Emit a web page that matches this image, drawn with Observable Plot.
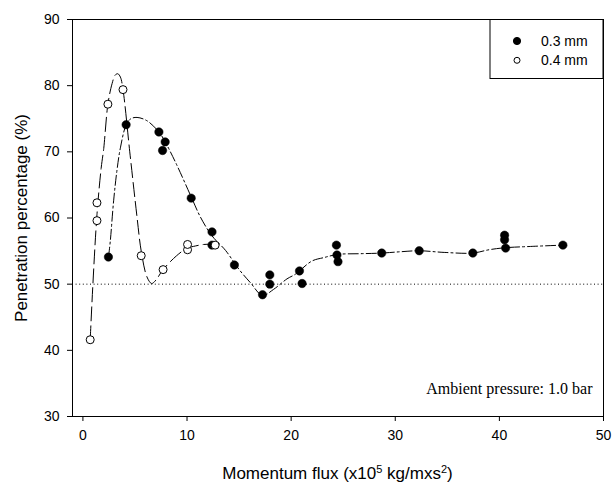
<!DOCTYPE html>
<html>
<head>
<meta charset="utf-8">
<script src="https://cdn.jsdelivr.net/npm/d3@7"></script>
<script src="https://cdn.jsdelivr.net/npm/@observablehq/plot@0.6"></script>
<style>
  html, body { margin: 0; padding: 0; background: white; }
</style>
</head>
<body>
<div id="chart"></div>
<script>
// ---- data ----
const series = ["0.3 mm", "0.4 mm"];

// 0.3 mm measured points (filled circles)
const flux03 = [2.45, 4.15, 7.3, 7.65, 7.9, 10.4, 12.4, 12.4, 14.55, 17.25, 17.95, 17.95, 20.8, 21.05, 24.35, 24.4, 24.5, 28.7, 32.3, 37.45, 40.5, 40.5, 40.6, 46.1];
const pen03  = [54.1, 74.1, 73.0, 70.2, 71.5, 63.0, 57.9, 55.9, 52.9, 48.4, 51.4, 50.0, 52.0, 50.1, 55.9, 54.4, 53.4, 54.7, 55.05, 54.7, 57.4, 56.7, 55.45, 55.9];

// 0.4 mm measured points (open circles)
const flux04 = [0.7, 1.35, 1.35, 2.4, 3.85, 5.6, 7.7, 10.05, 10.05, 12.7];
const pen04  = [41.6, 59.6, 62.3, 77.2, 79.4, 54.3, 52.2, 55.2, 56.0, 55.9];

// fitted trend curves
const fitFlux03 = [2.46, 2.63, 2.95, 3.27, 3.6, 4.16, 4.6, 5.2, 6.15, 7.3, 7.9, 8.9, 10.4, 11.3, 12.4, 13.7, 14.96, 16.1, 17.25, 18.3, 19.6, 20.4, 22.0, 23.1, 24.5, 26.5, 28.7, 30.5, 32.3, 34.7, 37.45, 39.0, 40.5, 43.0, 46.1];
const fitPen03  = [54.1, 56.5, 62.6, 67.2, 70.6, 74.1, 75.0, 75.2, 74.7, 73.0, 71.5, 68.4, 63.2, 60.1, 57.3, 55.1, 52.3, 50.2, 48.3, 49.2, 50.8, 51.5, 53.5, 54.0, 54.5, 54.6, 54.7, 54.9, 55.05, 54.8, 54.7, 55.2, 55.5, 55.7, 55.9];

const fitFlux04 = [0.7, 0.96, 1.35, 1.75, 2.0, 2.4, 2.8, 3.1, 3.35, 3.6, 3.85, 4.5, 5.2, 5.6, 6.15, 6.6, 7.0, 7.7, 9.0, 10.05, 10.6, 11.6, 13.0];
const fitPen04  = [41.6, 50.0, 60.5, 67.5, 70.5, 77.2, 80.3, 81.6, 81.8, 81.3, 79.4, 70.0, 60.1, 55.0, 51.1, 50.1, 50.6, 52.2, 54.3, 55.5, 55.7, 56.0, 56.0];

const referenceLevel = [50];
const xTicks = [0, 10, 20, 30, 40, 50];
const yTicks = [30, 40, 50, 60, 70, 80, 90];
const yLabel = "Penetration percentage (%)";
const note = "Ambient pressure: 1.0 bar";

// ---- tables built from the arrays ----
const pts03 = flux03.map((f, i) => ({flux: f, pen: pen03[i]}));
const pts04 = flux04.map((f, i) => ({flux: f, pen: pen04[i]}));
const fit03 = fitFlux03.map((f, i) => ({flux: f, pen: fitPen03[i]}));
const fit04 = fitFlux04.map((f, i) => ({flux: f, pen: fitPen04[i]}));

const sans = "'Liberation Sans', Arial, sans-serif";
const serif = "'Liberation Serif', 'Times New Roman', serif";

const chart = Plot.plot({
  width: 616,
  height: 485,
  marginLeft: 72,
  marginRight: 13,
  marginTop: 19,
  marginBottom: 69,
  style: {fontFamily: sans, fontSize: "14px", background: "white", color: "black"},
  x: {domain: [-1, 50]},
  y: {domain: [30, 90]},
  marks: [
    Plot.ruleY(referenceLevel, {stroke: "black", strokeWidth: 1, strokeDasharray: "1,2.6"}),
    Plot.line(fit04, {x: "flux", y: "pen", curve: "catmull-rom", stroke: "black", strokeWidth: 1, strokeDasharray: "14,5"}),
    Plot.line(fit03, {x: "flux", y: "pen", curve: "catmull-rom", stroke: "black", strokeWidth: 1, strokeDasharray: "10,3,2,3"}),
    Plot.dot(pts03, {x: "flux", y: "pen", r: 4.2, fill: "black", stroke: "black", strokeWidth: 0.5}),
    Plot.dot(pts04, {x: "flux", y: "pen", r: 4, fill: "white", stroke: "black", strokeWidth: 1}),
    Plot.frame({stroke: "black", strokeWidth: 1}),
    Plot.axisX({ticks: xTicks, tickSize: 5, tickPadding: 9, fontSize: 14, label: null}),
    Plot.axisY({ticks: yTicks, tickSize: 5, tickPadding: 8, fontSize: 14, label: yLabel, labelAnchor: "center", labelArrow: "none", labelOffset: 58}),
    Plot.text([note], {frameAnchor: "bottom-right", dx: -11, dy: -23, fontFamily: serif, fontSize: 16, textAnchor: "end", lineAnchor: "bottom"})
  ]
});

document.getElementById("chart").appendChild(chart);

// axis label font size
d3.select(chart).selectAll("g[aria-label='y-axis label'] text").style("font-size", "17px");

// x-axis label with superscripts
const svg = d3.select(chart);
const xl = svg.append("text")
  .attr("x", (72 + 603) / 2)
  .attr("y", 479)
  .attr("text-anchor", "middle")
  .style("font-family", sans)
  .style("font-size", "17px")
  .attr("fill", "black");
xl.append("tspan").text("Momentum flux (x10");
xl.append("tspan").attr("baseline-shift", "super").style("font-size", "11px").text("5");
xl.append("tspan").text(" kg/mxs");
xl.append("tspan").attr("baseline-shift", "super").style("font-size", "11px").text("2");
xl.append("tspan").text(")");

// legend box in the top-right corner
const lg = svg.append("g");
lg.append("rect").attr("x", 490).attr("y", 19.5).attr("width", 113).attr("height", 59)
  .attr("fill", "white").attr("stroke", "black").attr("stroke-width", 1);
series.forEach((s, i) => {
  const cy = 41 + i * 19.3;
  lg.append("circle").attr("cx", 517).attr("cy", cy).attr("r", i === 0 ? 3.6 : 3)
    .attr("fill", i === 0 ? "black" : "white").attr("stroke", "black").attr("stroke-width", 1);
  lg.append("text").attr("x", 541).attr("y", cy).attr("dy", "0.35em")
    .attr("text-anchor", "start")
    .style("font-family", sans).style("font-size", "14px").attr("fill", "black").text(s);
});
</script>
</body>
</html>
